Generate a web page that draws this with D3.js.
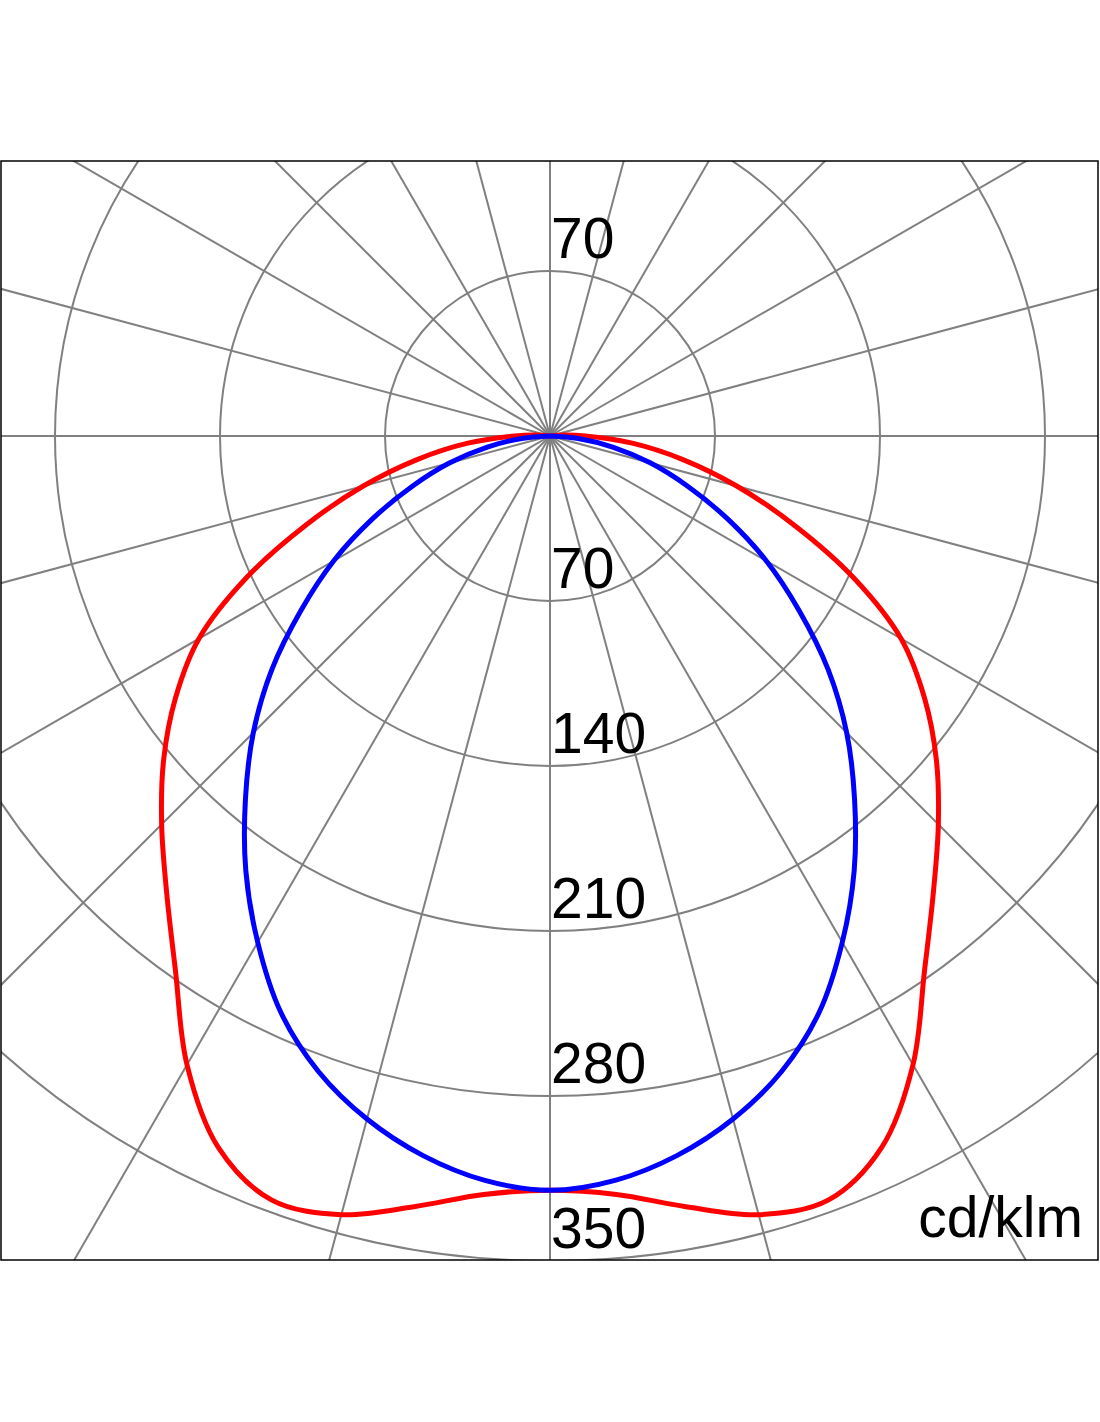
<!DOCTYPE html>
<html>
<head>
<meta charset="utf-8">
<script src="https://cdn.jsdelivr.net/npm/d3@7"></script>
<style>
  html, body { margin: 0; padding: 0; background: #fff; }
  svg { display: block; }
</style>
</head>
<body>
<script>
// Angles (degrees from nadir) for the half-plane; mirrored for the other side
const gammaDeg = [0,5,10,15,20,25,30,35,40,45,50,55,60,65,70,75,80,85,90,95,100,105,110,115,120,125,130,135,140,145,150,155,160,165,170,175,180];
// C0-C180 plane (blue), cd/klm
const bluePlane = [320,317,310,300,287,270,248,225,201,178,154,129,106,83,62,44,27,12,0,0,0,0,0,0,0,0,0,0,0,0,0,0,0,0,0,0,0];
// C90-C270 plane (red), cd/klm
const redPlane = [320,323,332,342,345,333,308,277,253,233,214,194,172,142,110,82,57,35,15,4,0,0,0,0,0,0,0,0,0,0,0,0,0,0,0,0,0];
// Ring tick labels
const ringValues = [70,140,210,280,350,420];
const lowerLabels = [70,140,210,280,350];
const upperLabels = [70];
const unitLabel = "cd/klm";

const W = 1100, H = 1422;
const frame = {x: 1, y: 161, w: 1097, h: 1099};
const cx = 550, cy = 436;

const r = d3.scaleLinear().domain([0, 350]).range([0, 825]);

const svg = d3.select("body").append("svg").attr("width", W).attr("height", H);

svg.append("defs").append("clipPath").attr("id", "clip")
  .append("rect").attr("x", frame.x).attr("y", frame.y).attr("width", frame.w).attr("height", frame.h);

const g = svg.append("g").attr("clip-path", "url(#clip)");
const center = g.append("g").attr("transform", `translate(${cx},${cy})`);

// radial grid lines every 15 degrees
const spokes = d3.range(0, 360, 15);
center.selectAll("line.spoke").data(spokes).join("line")
  .attr("class", "spoke")
  .attr("x1", 0).attr("y1", 0)
  .attr("x2", d => 1400 * Math.sin(d * Math.PI / 180))
  .attr("y2", d => 1400 * Math.cos(d * Math.PI / 180))
  .attr("stroke", "#808080").attr("stroke-width", 2);

// circles
center.selectAll("circle.ring").data(ringValues).join("circle")
  .attr("class", "ring")
  .attr("r", d => r(d))
  .attr("fill", "none").attr("stroke", "#808080").attr("stroke-width", 2);

// labels
const fontFam = "'Liberation Sans', Arial, Helvetica, sans-serif";
center.selectAll("text.lo").data(lowerLabels).join("text")
  .attr("class", "lo")
  .attr("x", 1).attr("y", d => r(d) - 13)
  .attr("font-family", fontFam).attr("font-size", 57).attr("fill", "#000")
  .text(d => d);
center.selectAll("text.up").data(upperLabels).join("text")
  .attr("class", "up")
  .attr("x", 1).attr("y", d => -r(d) - 13)
  .attr("font-family", fontFam).attr("font-size", 57).attr("fill", "#000")
  .text(d => d);

// curves
function fullCurve(vals) {
  const pts = [];
  for (let i = 0; i < gammaDeg.length; i++) pts.push([gammaDeg[i], vals[i]]);
  for (let i = gammaDeg.length - 2; i > 0; i--) pts.push([-gammaDeg[i], vals[i]]);
  return pts;
}
const radial = d3.lineRadial()
  .angle(d => Math.PI - d[0] * Math.PI / 180)
  .radius(d => r(d[1]))
  .curve(d3.curveCatmullRomClosed.alpha(0.5));

center.append("path").datum(fullCurve(redPlane))
  .attr("d", radial).attr("fill", "none")
  .attr("stroke", "#ff0000").attr("stroke-width", 5).attr("stroke-linejoin", "round");
center.append("path").datum(fullCurve(bluePlane))
  .attr("d", radial).attr("fill", "none")
  .attr("stroke", "#0000ff").attr("stroke-width", 5).attr("stroke-linejoin", "round");

// unit label
svg.append("text")
  .attr("x", 1083).attr("y", 1237).attr("text-anchor", "end")
  .attr("font-family", fontFam).attr("font-size", 57).attr("fill", "#000")
  .text(unitLabel);

// frame
svg.append("rect")
  .attr("x", frame.x).attr("y", frame.y).attr("width", frame.w).attr("height", frame.h)
  .attr("fill", "none").attr("stroke", "#000").attr("stroke-width", 1.5);
</script>
</body>
</html>
